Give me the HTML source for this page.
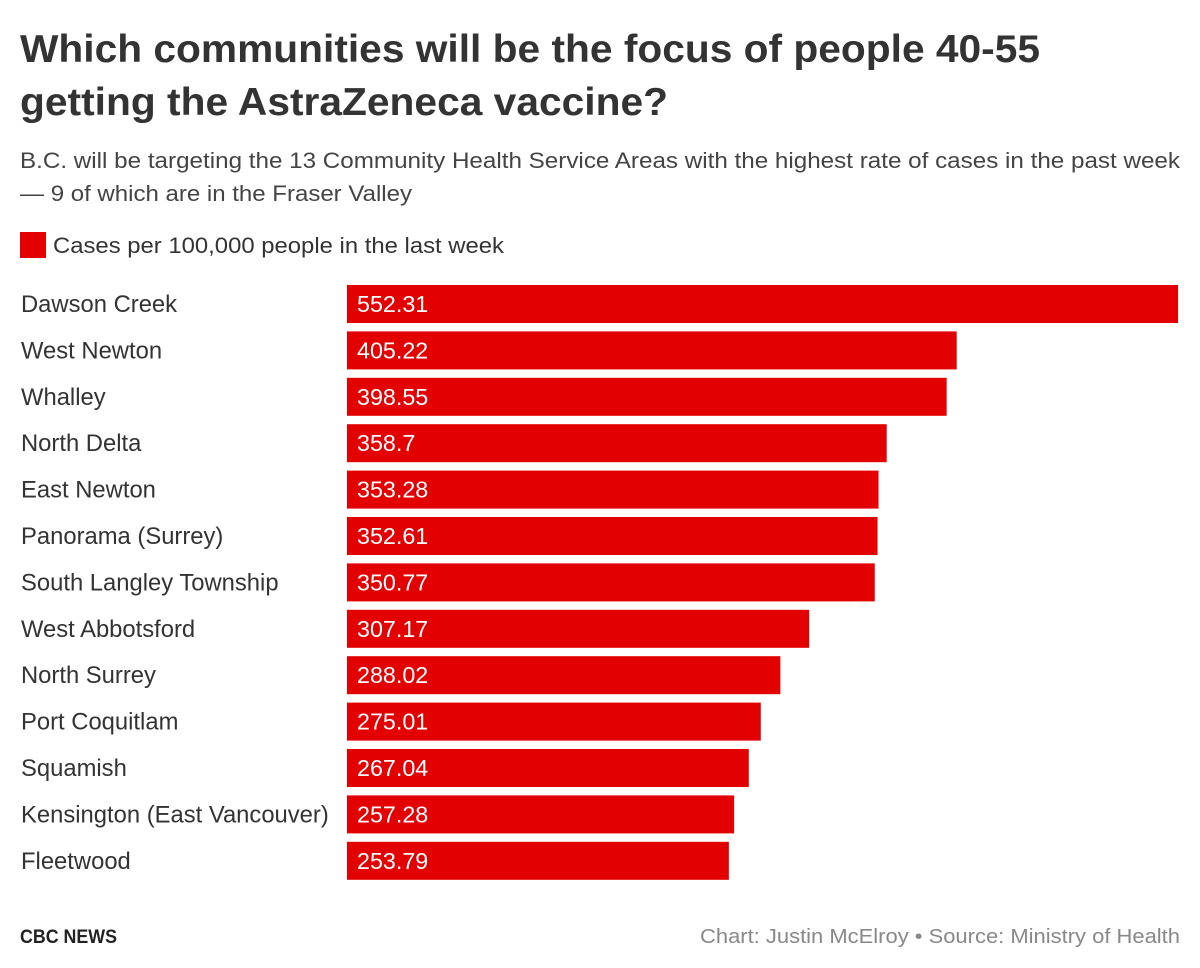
<!DOCTYPE html>
<html><head><meta charset="utf-8"><style>
html,body{margin:0;padding:0;background:#fff;}
svg{display:block;font-family:"Liberation Sans",sans-serif;}
</style></head><body>
<svg id="chart" width="1200" height="968" viewBox="0 0 1200 968">
<text x="20" y="62" font-size="39" font-weight="bold" fill="#333" textLength="1020" lengthAdjust="spacingAndGlyphs">Which communities will be the focus of people 40-55</text>
<text x="20" y="115" font-size="39" font-weight="bold" fill="#333" textLength="648" lengthAdjust="spacingAndGlyphs">getting the AstraZeneca vaccine?</text>
<text x="20" y="168" font-size="22" fill="#444" textLength="1160" lengthAdjust="spacingAndGlyphs">B.C. will be targeting the 13 Community Health Service Areas with the highest rate of cases in the past week</text>
<text x="20" y="201" font-size="22" fill="#444" textLength="392" lengthAdjust="spacingAndGlyphs">— 9 of which are in the Fraser Valley</text>
<rect x="20" y="232" width="26" height="26" fill="#e30000"/>
<text x="53" y="253" font-size="22" fill="#333" textLength="451" lengthAdjust="spacingAndGlyphs">Cases per 100,000 people in the last week</text>
<g id="bars"></g>
<text x="20" y="943" font-size="19" font-weight="bold" fill="#222" textLength="97" lengthAdjust="spacingAndGlyphs">CBC NEWS</text>
<text x="1180" y="943" font-size="20" fill="#888" text-anchor="end" textLength="480" lengthAdjust="spacingAndGlyphs">Chart: Justin McElroy • Source: Ministry of Health</text>
</svg>
<script>
const categories = ["Dawson Creek","West Newton","Whalley","North Delta","East Newton","Panorama (Surrey)","South Langley Township","West Abbotsford","North Surrey","Port Coquitlam","Squamish","Kensington (East Vancouver)","Fleetwood"];
const values = [552.31,405.22,398.55,358.7,353.28,352.61,350.77,307.17,288.02,275.01,267.04,257.28,253.79];
const valueLabels = ["552.31","405.22","398.55","358.7","353.28","352.61","350.77","307.17","288.02","275.01","267.04","257.28","253.79"];

const NS = "http://www.w3.org/2000/svg";
const x0 = 347, x1 = 1178, maxV = Math.max(...values);
function xScale(v){ return x0 + (v / maxV) * (x1 - x0); }
function yScale(i){ return 285 + i * 46.4; }
const barH = 38;
const g = document.getElementById("bars");
categories.forEach((c, i) => {
  const y = yScale(i);
  const lab = document.createElementNS(NS, "text");
  lab.setAttribute("x", 21);
  lab.setAttribute("y", y + barH/2 + 8);
  lab.setAttribute("font-size", "23.8");
  lab.setAttribute("fill", "#333");
  lab.textContent = c;
  
  
  g.appendChild(lab);
  const r = document.createElementNS(NS, "rect");
  r.setAttribute("x", x0);
  r.setAttribute("y", y);
  r.setAttribute("width", xScale(values[i]) - x0);
  r.setAttribute("height", barH);
  r.setAttribute("fill", "#e30000");
  
  
  g.appendChild(r);
  const v = document.createElementNS(NS, "text");
  v.setAttribute("x", x0 + 10);
  v.setAttribute("y", y + barH/2 + 8);
  v.setAttribute("font-size", "23.3");
  v.setAttribute("fill", "#fff");
  v.textContent = valueLabels[i];
  
  
  g.appendChild(v);
});
</script>
</body></html>
